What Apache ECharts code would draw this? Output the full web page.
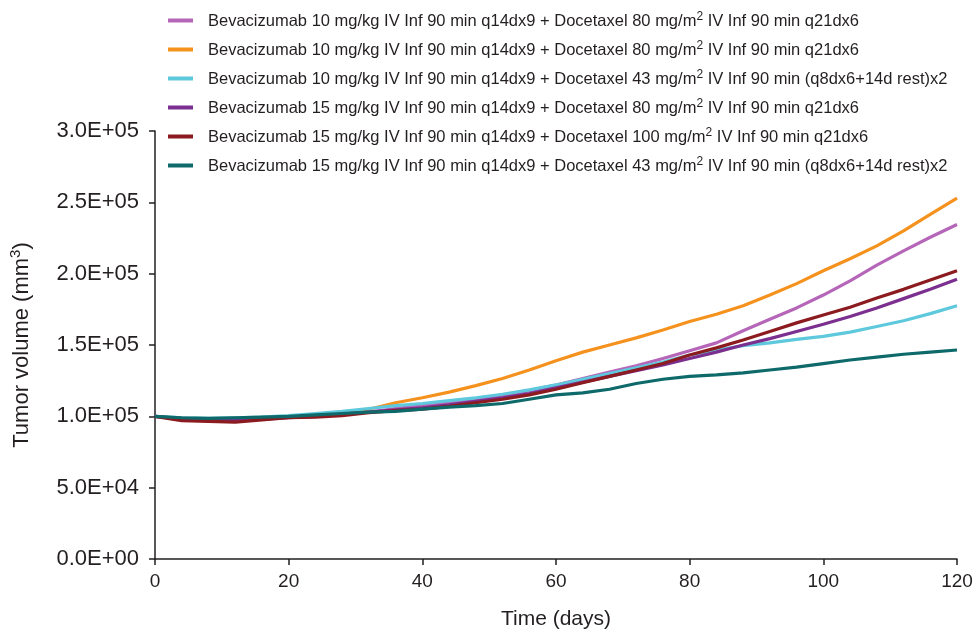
<!DOCTYPE html>
<html>
<head>
<meta charset="utf-8">
<script src="https://cdn.jsdelivr.net/npm/echarts@6/dist/echarts.min.js"></script>
<style>
  html, body { margin: 0; padding: 0; background: #fff; }
  #chart { width: 978px; height: 635px; }
</style>
</head>
<body>
<div id="chart"></div>
<script>
// ---- data ----
var days = [0,4,8,12,16,20,24,28,32,36,40,44,48,52,56,60,64,68,72,76,80,84,88,92,96,100,104,108,112,116,120];

var bev10doc80a = [100000,98500,98000,98000,98500,99500,100500,101500,103000,105500,107500,109500,112000,114500,118000,122000,126500,131000,135500,140500,146000,151500,160000,168000,176000,185000,195000,206000,216000,225500,234500];
var bev10doc80b = [100000,98500,98000,98500,99000,100000,101000,102500,105000,109500,113000,117000,121500,126500,132500,139000,145000,150000,155000,160500,166500,171500,177500,185000,193000,202000,210500,219500,230000,241500,253000];
var bev10doc43 = [100000,99000,98500,99000,99500,100500,102000,103500,105500,107500,109000,111000,113000,115500,118500,122000,126000,130000,134000,138000,143000,146500,149500,151500,154000,156000,159000,163000,167000,172000,177500];
var bev15doc80 = [100000,98000,97500,97500,98000,99000,100000,101500,103000,104500,106000,108000,110500,113000,116000,120000,124000,128000,132000,136000,140500,145000,150000,154500,159500,164500,170000,176000,182500,189000,196000];
var bev15doc100 = [100000,97000,96500,96000,97500,99000,99500,100500,102500,104000,105000,107000,109500,112000,115000,119000,123500,128000,132500,137000,143000,148000,153500,159500,165500,171000,176500,183000,189000,195500,202000];
var bev15doc43 = [100000,99000,98500,99000,99500,100000,101000,102000,103000,103500,105000,106500,107500,109000,112000,115000,116500,119000,123000,126000,128000,129000,130500,132500,134500,137000,139500,141500,143500,145000,146500];

var seriesNames = [
  'Bevacizumab 10 mg/kg IV Inf 90 min q14dx9 + Docetaxel 80 mg/m|2| IV Inf 90 min q21dx6',
  'Bevacizumab 10 mg/kg IV Inf 90 min q14dx9 + Docetaxel 80 mg/m|2| IV Inf 90 min q21dx6 ',
  'Bevacizumab 10 mg/kg IV Inf 90 min q14dx9 + Docetaxel 43 mg/m|2| IV Inf 90 min (q8dx6+14d rest)x2',
  'Bevacizumab 15 mg/kg IV Inf 90 min q14dx9 + Docetaxel 80 mg/m|2| IV Inf 90 min q21dx6',
  'Bevacizumab 15 mg/kg IV Inf 90 min q14dx9 + Docetaxel 100 mg/m|2| IV Inf 90 min q21dx6',
  'Bevacizumab 15 mg/kg IV Inf 90 min q14dx9 + Docetaxel 43 mg/m|2| IV Inf 90 min (q8dx6+14d rest)x2'
];
var seriesValues = [bev10doc80a, bev10doc80b, bev10doc43, bev15doc80, bev15doc100, bev15doc43];
var colors = ['#b566b8', '#f5921e', '#5ec8dc', '#7b2f8e', '#8c1b1f', '#0e6a6a'];

var xTicks = [0, 20, 40, 60, 80, 100, 120];
var yTicks = [0, 50000, 100000, 150000, 200000, 250000, 300000];

// ---- chart ----
function sci(v) {
  if (v === 0) return '0.0E+00';
  var e = Math.floor(Math.log10(Math.abs(v)));
  var m = v / Math.pow(10, e);
  var es = (e < 0 ? '-' : '+') + (Math.abs(e) < 10 ? '0' : '') + Math.abs(e);
  return m.toFixed(1) + 'E' + es;
}

var font = '"Liberation Sans", Arial, Helvetica, sans-serif';
var chart = echarts.init(document.getElementById('chart'), null, { renderer: 'canvas' });

var series = seriesNames.map(function (name, i) {
  return {
    name: name,
    type: 'line',
    showSymbol: false,
    symbol: 'none',
    smooth: false,
    lineStyle: { width: 3.2, color: colors[i] },
    itemStyle: { color: colors[i] },
    data: days.map(function (d, j) { return [d, seriesValues[i][j]]; }),
    z: [2, 1, 3, 4, 5, 6][i]
  };
});

chart.setOption({
  animation: false,
  backgroundColor: '#ffffff',
  textStyle: { fontFamily: font },
  grid: { left: 155, right: 21, top: 131, bottom: 75, containLabel: false },
  legend: {
    orient: 'vertical',
    left: 163,
    top: 6,
    itemWidth: 25,
    itemHeight: 4,
    itemGap: 10,
    icon: 'rect',
    data: seriesNames,
    formatter: function (name) {
      var p = name.trim().split('|');
      return '{a|' + p[0] + '}{s|' + p[1] + '}{a|' + p[2] + '}';
    },
    textStyle: {
      color: '#231f20',
      fontFamily: font,
      padding: [0, 0, 0, 10],
      rich: {
        a: { fontSize: 16.5, fontFamily: font, color: '#231f20', lineHeight: 19, verticalAlign: 'bottom' },
        s: { fontSize: 12, fontFamily: font, color: '#231f20', lineHeight: 19, verticalAlign: 'top' }
      }
    }
  },
  xAxis: {
    type: 'value',
    min: 0,
    max: 120,
    interval: 20,
    name: 'Time (days)',
    nameLocation: 'middle',
    nameGap: 50,
    nameTextStyle: { fontSize: 21, color: '#231f20', fontFamily: font },
    axisLine: { show: true, onZero: false, lineStyle: { color: '#231f20', width: 1.5 } },
    axisTick: { show: true, inside: false, length: 6, lineStyle: { color: '#231f20', width: 1.5 } },
    axisLabel: { fontSize: 19, color: '#231f20', margin: 13, fontFamily: font },
    splitLine: { show: false }
  },
  yAxis: {
    type: 'value',
    min: 0,
    max: 300000,
    interval: 50000,
    name: '{t|Tumor volume (mm}{s|3}{t|)}',
    nameLocation: 'middle',
    nameRotate: 90,
    nameGap: 122,
    nameTextStyle: {
      color: '#231f20',
      fontFamily: font,
      rich: {
        t: { fontSize: 22, fontFamily: font, color: '#231f20', lineHeight: 25, verticalAlign: 'bottom' },
        s: { fontSize: 15, fontFamily: font, color: '#231f20', lineHeight: 25, verticalAlign: 'top' }
      }
    },
    axisLine: { show: true, lineStyle: { color: '#231f20', width: 1.5 } },
    axisTick: { show: true, inside: false, length: 6, lineStyle: { color: '#231f20', width: 1.5 } },
    axisLabel: { fontSize: 22, color: '#231f20', margin: 16, fontFamily: font, formatter: function (v) { return sci(v); } },
    splitLine: { show: false }
  },
  series: series
});
</script>
</body>
</html>
